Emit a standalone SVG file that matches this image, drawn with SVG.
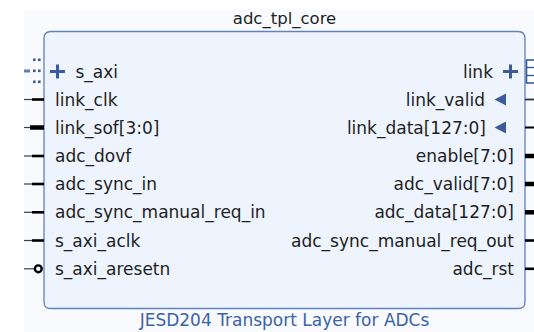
<svg xmlns="http://www.w3.org/2000/svg" width="534" height="332" viewBox="0 0 534 332">
<style>
text{font-family:"DejaVu Sans",Verdana,sans-serif;font-size:17px;fill:#1e1e1e}
.r{text-anchor:end}
.thin{stroke:#34414f;stroke-width:1.2}
.sc{stroke:#000;stroke-width:2.6}
.bus{stroke:#000;stroke-width:4.5}
.blue{fill:#3b5b9c}
.plus{stroke:#3b5b9c;stroke-width:3;fill:none}
</style>
<rect x="24" y="10" width="510" height="322" fill="#f8fafd"/>
<text x="284.5" y="24" style="text-anchor:middle;font-size:16.5px">adc_tpl_core</text>
<g id="block">
<path d="M51 31.5 H518 Q525 31.5 525 38.5 V302 Q525 308.5 518.5 308.5 H50.5 Q44 308.5 44 302 V38.5 Q44 31.5 51 31.5 Z" fill="#eef4fd" stroke="#6282bb" stroke-width="1.3"/>
<text x="284.5" y="326" style="text-anchor:middle;fill:#3d62a6">JESD204 Transport Layer for ADCs</text>
</g>
<g id="connectors">
<!-- left s_axi bus icon -->
<rect x="24" y="69.5" width="6" height="3" fill="#5b7fb8"/>
<g fill="#3b5b9c">
<rect x="33" y="58.5" width="2.6" height="2.6"/><rect x="38" y="58.5" width="2.6" height="2.6"/>
<rect x="33" y="69.5" width="2.6" height="2.6"/><rect x="38" y="69.5" width="2.6" height="2.6"/>
<rect x="33" y="80.5" width="2.6" height="2.6"/><rect x="38" y="80.5" width="2.6" height="2.6"/>
</g>
<!-- left scalar pins -->
<line x1="24" y1="99.5" x2="32" y2="99.5" class="thin"/><line x1="32" y1="99.5" x2="44" y2="99.5" class="sc"/>
<line x1="24" y1="127.5" x2="30" y2="127.5" class="thin"/><line x1="30" y1="127.5" x2="44" y2="127.5" class="bus"/>
<line x1="24" y1="156" x2="32" y2="156" class="thin"/><line x1="32" y1="156" x2="44" y2="156" class="sc"/>
<line x1="24" y1="184" x2="32" y2="184" class="thin"/><line x1="32" y1="184" x2="44" y2="184" class="sc"/>
<line x1="24" y1="212.3" x2="32" y2="212.3" class="thin"/><line x1="32" y1="212.3" x2="44" y2="212.3" class="sc"/>
<line x1="24" y1="240.5" x2="32" y2="240.5" class="thin"/><line x1="32" y1="240.5" x2="44" y2="240.5" class="sc"/>
<line x1="24" y1="268.8" x2="34" y2="268.8" class="thin"/>
<circle cx="38.3" cy="268.8" r="3.4" fill="#fff" stroke="#000" stroke-width="2.4"/>
<!-- right link bus icon -->
<rect x="526.5" y="60" width="9" height="23" fill="#fff" stroke="#3b5b9c" stroke-width="1.6"/>
<line x1="526.5" y1="67.5" x2="534" y2="67.5" stroke="#3b5b9c" stroke-width="1.4"/>
<line x1="526.5" y1="75.5" x2="534" y2="75.5" stroke="#3b5b9c" stroke-width="1.4"/>
<!-- right pins -->
<line x1="525" y1="99.5" x2="534" y2="99.5" stroke="#333" stroke-width="1.8"/>
<line x1="525" y1="127.5" x2="534" y2="127.5" stroke="#000" stroke-width="2"/>
<line x1="525" y1="156" x2="534" y2="156" class="bus"/>
<line x1="525" y1="184" x2="534" y2="184" class="bus"/>
<line x1="525" y1="212.3" x2="534" y2="212.3" class="bus"/>
<line x1="525" y1="240.5" x2="534" y2="240.5" class="sc"/>
<line x1="525" y1="268.8" x2="534" y2="268.8" class="sc"/>
</g>
<g id="ports-left">
<path d="M50 71.5 H65 M57.5 64.5 V78.5" class="plus"/>
<text x="75.5" y="77.5">s_axi</text>
<text x="55" y="105.5">link_clk</text>
<text x="55" y="133.5">link_sof[3:0]</text>
<text x="55" y="162">adc_dovf</text>
<text x="55" y="190">adc_sync_in</text>
<text x="55" y="218.3">adc_sync_manual_req_in</text>
<text x="55" y="246.5">s_axi_aclk</text>
<text x="55" y="274.8">s_axi_aresetn</text>
</g>
<g id="ports-right">
<path d="M503 71.5 H518 M510.5 64.5 V78.5" class="plus"/>
<text class="r" x="493" y="77.5">link</text>
<path d="M494.5 99.5 L506 93.5 V105.5 Z" class="blue"/>
<text class="r" x="485" y="105.5">link_valid</text>
<path d="M494.5 127.5 L506 121.5 V133.5 Z" class="blue"/>
<text class="r" x="486" y="133.5">link_data[127:0]</text>
<text class="r" x="514" y="162">enable[7:0]</text>
<text class="r" x="514" y="190">adc_valid[7:0]</text>
<text class="r" x="514" y="218.3">adc_data[127:0]</text>
<text class="r" x="514" y="246.5">adc_sync_manual_req_out</text>
<text class="r" x="514" y="274.8">adc_rst</text>
</g>
</svg>
